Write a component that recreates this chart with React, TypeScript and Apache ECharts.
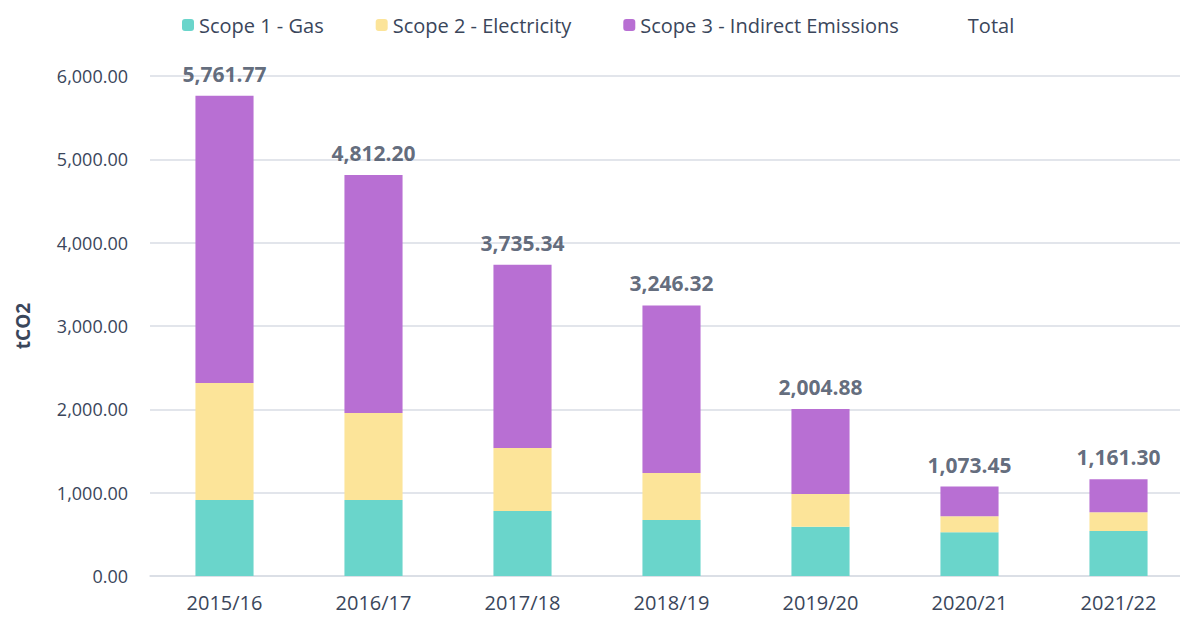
import React, { useEffect, useRef } from "react";
import * as echarts from "echarts";

const categories = ["2015/16", "2016/17", "2017/18", "2018/19", "2019/20", "2020/21", "2021/22"];
const scope1Gas = [912, 912, 780, 672, 592, 524, 540];
const scope2Electricity = [1404, 1044, 756, 564, 392, 192, 224];
const scope3Indirect = [3445.77, 2856.2, 2199.34, 2010.32, 1020.88, 357.45, 397.3];
const totals = [5761.77, 4812.2, 3735.34, 3246.32, 2004.88, 1073.45, 1161.3];

const TEXT = "#3A465B";
const FONT = "Open Sans";

export default function App() {
  const ref = useRef<HTMLDivElement>(null);
  useEffect(() => {
    document.body.style.margin = "0";
    const chart = echarts.init(ref.current!, null, { renderer: "svg" });
    const fmt = (v: number) =>
      v.toLocaleString("en-US", { minimumFractionDigits: 2, maximumFractionDigits: 2 });
    chart.setOption({
      animation: false,
      textStyle: { fontFamily: FONT, color: TEXT },
      legend: {
        top: 10,
        left: 177,
        itemWidth: 12,
        itemHeight: 12,
        itemGap: 52,
        textStyle: { fontSize: 20, color: TEXT, fontFamily: FONT },
        data: [
          { name: "Scope 1 - Gas" },
          { name: "Scope 2 - Electricity" },
          { name: "Scope 3 - Indirect Emissions" },
          { name: "Total", itemStyle: { opacity: 0 } },
        ],
      },
      grid: { left: 150, width: 1043, top: 76, bottom: 42, outerBoundsMode: "none", containLabel: false },
      xAxis: {
        type: "category",
        data: categories,
        axisTick: { show: false },
        axisLine: { lineStyle: { color: "#D9DDE5", width: 1.5 } },
        axisLabel: { fontSize: 20, color: TEXT, margin: 16, fontFamily: FONT },
      },
      yAxis: {
        type: "value",
        min: 0,
        max: 6000,
        interval: 1000,
        name: "tCO2",
        nameLocation: "middle",
        nameGap: 118,
        nameRotate: 90,
        nameTextStyle: { fontSize: 19, fontWeight: "bold", color: TEXT, fontFamily: FONT },
        axisLabel: { fontSize: 18, color: TEXT, margin: 22, formatter: (v: number) => fmt(v), fontFamily: FONT },
        splitLine: { lineStyle: { color: "#D9DDE5", width: 1.5 } },
        axisLine: { show: false },
        axisTick: { show: false },
      },
      series: [
        {
          name: "Scope 1 - Gas",
          type: "bar",
          stack: "s",
          barWidth: "39%",
          data: scope1Gas,
          itemStyle: { color: "#6AD5CB" },
        },
        {
          name: "Scope 2 - Electricity",
          type: "bar",
          stack: "s",
          data: scope2Electricity,
          itemStyle: { color: "#FCE499" },
        },
        {
          name: "Scope 3 - Indirect Emissions",
          type: "bar",
          stack: "s",
          data: scope3Indirect,
          itemStyle: { color: "#B86FD3" },
        },
        {
          name: "Total",
          type: "scatter",
          data: totals,
          symbolSize: 1,
          itemStyle: { color: "rgba(0,0,0,0)" },
          label: {
            show: true,
            position: "top",
            distance: 11,
            formatter: (p: any) => fmt(p.value),
            fontSize: 21,
            fontWeight: "bold",
            color: TEXT,
            fontFamily: FONT,
          },
        },
      ],
    });
    return () => chart.dispose();
  }, []);
  return <div ref={ref} style={{ width: 1180, height: 618 }} />;
}
